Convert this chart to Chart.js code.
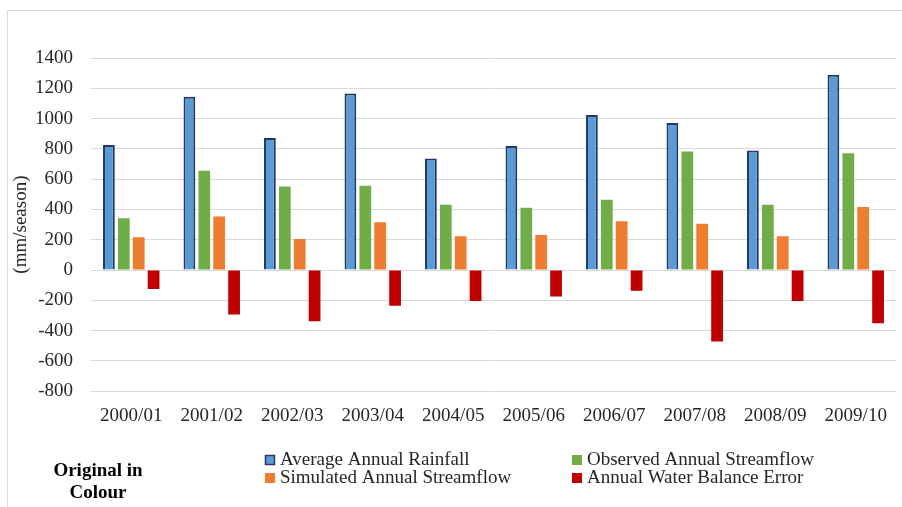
<!DOCTYPE html>
<html>
<head>
<meta charset="utf-8">
<script src="https://cdn.jsdelivr.net/npm/chart.js@4"></script>
<style>
  html, body { margin: 0; padding: 0; background: #fff; }
  #wrap { width: 902px; height: 507px; }
</style>
</head>
<body>
<div id="wrap"><canvas id="flowChart" width="902" height="507"></canvas></div>
<script>
const seasons = ['2000/01', '2001/02', '2002/03', '2003/04', '2004/05', '2005/06', '2006/07', '2007/08', '2008/09', '2009/10'];
const rainfall = [825, 1144, 872, 1166, 736, 819, 1024, 971, 789, 1289];
const observedFlow = [342, 656, 552, 557, 431, 411, 464, 782, 431, 771];
const simulatedFlow = [216, 353, 205, 315, 223, 232, 322, 305, 223, 417];
const balanceError = [-126, -293, -338, -236, -205, -174, -137, -472, -205, -352];
const yTicks = [1400, 1200, 1000, 800, 600, 400, 200, 0, -200, -400, -600, -800];

const serif = "'Liberation Serif', 'Times New Roman', serif";
const textColor = '#262626';

// Excel-style frame, two-column legend and the side note
const extras = {
    id: 'extras',
    afterDraw(chart) {
        const c = chart.ctx;
        c.save();
        c.strokeStyle = '#d9d9d9';
        c.lineWidth = 1;
        c.strokeRect(7.5, 10.5, 1000, 1000);

        c.font = '19px ' + serif;
        c.textBaseline = 'middle';
        c.textAlign = 'left';
        const items = [
            { ds: 0, x: 265, y: 460 },
            { ds: 1, x: 572, y: 460 },
            { ds: 2, x: 265, y: 478 },
            { ds: 3, x: 572, y: 478 },
        ];
        items.forEach(it => {
            const d = chart.data.datasets[it.ds];
            c.fillStyle = d.backgroundColor;
            c.fillRect(it.x, it.y - 5, 10, 10);
            if (it.ds === 0) {
                c.strokeStyle = d.borderColor;
                c.lineWidth = 1.5;
                c.strokeRect(it.x + 0.5, it.y - 4.5, 9, 9);
            }
            c.fillStyle = textColor;
            c.fillText(d.label, it.x + 15, it.y);
        });

        c.font = 'bold 19px ' + serif;
        c.textAlign = 'center';
        c.fillStyle = '#000';
        c.fillText('Original in', 98, 471);
        c.fillText('Colour', 98, 493);
        c.restore();
    }
};

const ctx = document.getElementById('flowChart').getContext('2d');
new Chart(ctx, {
    type: 'bar',
    data: {
        labels: seasons,
        datasets: [
            {
                label: 'Average Annual Rainfall',
                data: rainfall,
                backgroundColor: '#5B9BD5',
                borderColor: '#1F3864',
                borderWidth: 2,
            },
            {
                label: 'Observed Annual Streamflow',
                data: observedFlow,
                backgroundColor: '#70AD47',
                borderWidth: 0,
            },
            {
                label: 'Simulated Annual Streamflow',
                data: simulatedFlow,
                backgroundColor: '#ED7D31',
                borderWidth: 0,
            },
            {
                label: 'Annual Water Balance Error',
                data: balanceError,
                backgroundColor: '#C00000',
                borderWidth: 0,
            }
        ],
    },
    options: {
        responsive: false,
        animation: false,
        categoryPercentage: 0.74,
        barPercentage: 0.79,
        layout: { padding: { top: 58, right: 6, bottom: 75, left: 10 } },
        plugins: {
            legend: { display: false },
            tooltip: { enabled: false },
        },
        scales: {
            x: {
                grid: { display: false },
                border: { display: false },
                ticks: { color: textColor, font: { family: serif, size: 19 }, padding: 5 },
            },
            y: {
                min: -800,
                max: 1400,
                afterFit: scale => { scale.width = 81; },
                afterBuildTicks: scale => { scale.ticks = yTicks.map(v => ({ value: v })); },
                grid: { color: '#d9d9d9', lineWidth: 1, drawTicks: false },
                border: { display: false },
                ticks: {
                    color: textColor,
                    font: { family: serif, size: 19 },
                    padding: 18,
                    callback: v => String(v),
                },
                title: {
                    display: true,
                    text: '(mm/season)',
                    color: textColor,
                    font: { family: serif, size: 19 },
                    padding: 0,
                },
            },
        },
    },
    plugins: [extras],
});
</script>
</body>
</html>
